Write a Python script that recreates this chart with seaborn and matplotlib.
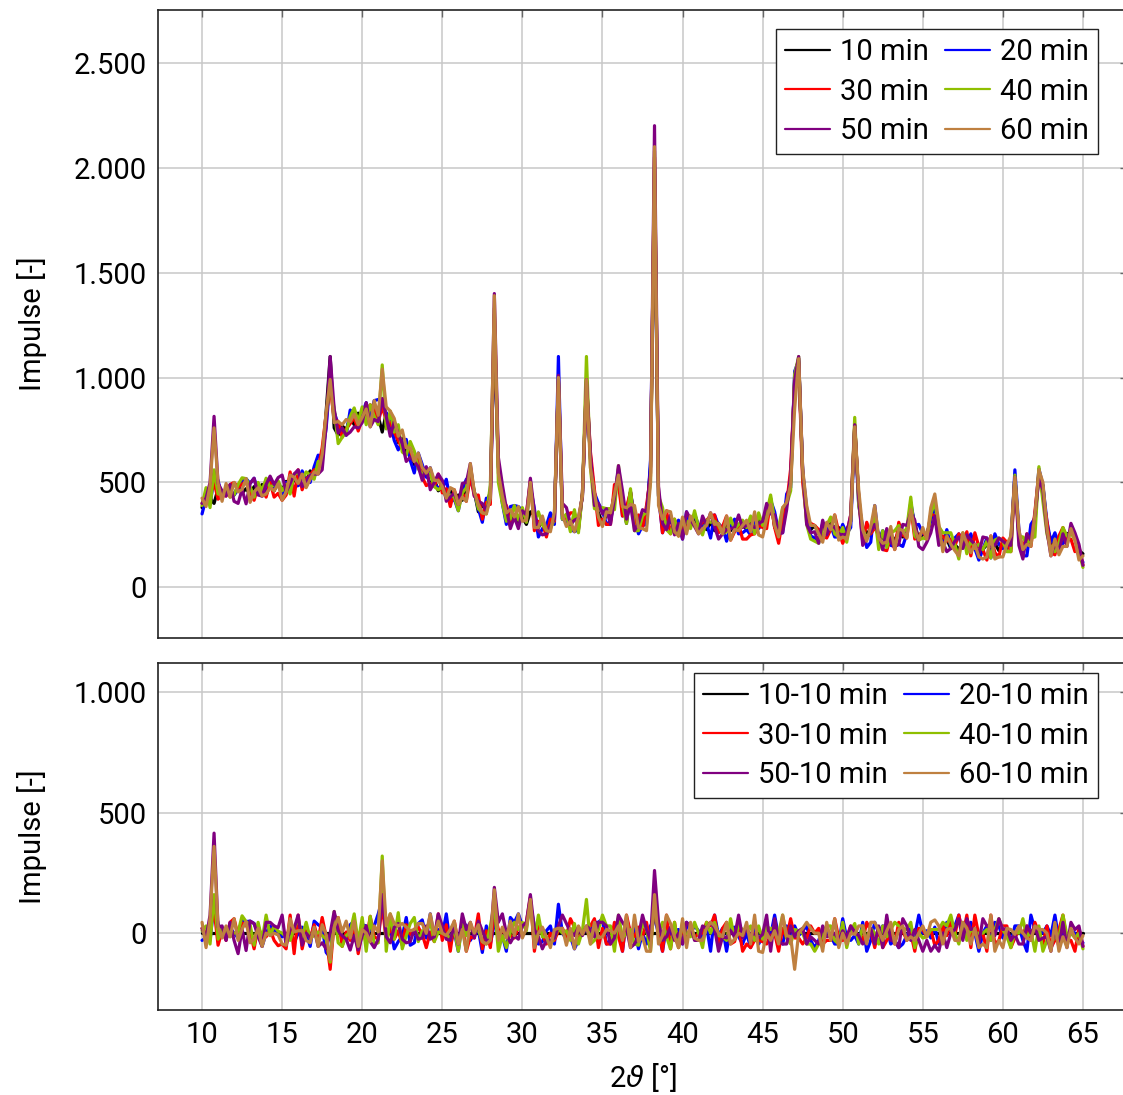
import numpy as np
import pandas as pd
import matplotlib
matplotlib.use("Agg")
import matplotlib.pyplot as plt
import seaborn as sns
from matplotlib.ticker import FuncFormatter
from matplotlib.lines import Line2D

# Diffraction angle grid (2 theta, degrees), 0.25 deg steps from 10 to 65
two_theta = np.round(10.0 + 0.25 * np.arange(221), 2)

# Measured intensity per milling time (counts), one row per degree
imp_10 = [380, 445, 425, 400, 470, 430, 465, 445, 440, 485, 450, 470, 445, 480, 455, 490,
          445, 485, 460, 500, 460, 505, 475, 520, 485, 530, 505, 555, 525, 595, 600, 840,
          1100, 760, 725, 770, 750, 810, 775, 830, 795, 850, 800, 860, 815, 740, 830, 760,
          765, 690, 710, 640, 655, 585, 600, 530, 545, 490, 515, 460, 480, 435, 460, 415,
          440, 415, 485, 545, 455, 360, 390, 395, 455, 1210, 575, 410, 375, 320, 345, 305,
          335, 300, 360, 345, 285, 315, 285, 325, 345, 980, 325, 340, 295, 330, 305, 440,
          960, 615, 405, 355, 305, 345, 345, 445, 505, 415, 305, 455, 315, 320, 295, 345,
          575, 1940, 435, 335, 290, 320, 280, 305, 275, 315, 295, 320, 285, 310, 275, 310,
          270, 305, 270, 295, 270, 300, 270, 305, 275, 310, 285, 325, 320, 325, 425, 285,
          285, 305, 415, 505, 1000, 1090, 545, 345, 275, 295, 255, 290, 265, 305, 285, 285,
          240, 275, 315, 770, 435, 245, 265, 245, 345, 225, 240, 205, 245, 225, 265, 240,
          265, 385, 305, 225, 255, 245, 335, 390, 275, 215, 230, 185, 205, 180, 215, 190,
          210, 185, 205, 180, 205, 170, 210, 175, 205, 185, 230, 530, 245, 180, 225, 225,
          315, 545, 485, 285, 225, 185, 230, 210, 255, 260, 245, 175, 160]

imp_20 = [350, 425, 395, 520, 510, 425, 465, 465, 440, 465, 507, 518, 495, 520, 455, 435,
          445, 515, 470, 493, 445, 500, 485, 480, 485, 555, 505, 500, 575, 630, 625, 760,
          1000, 835, 775, 740, 725, 845, 825, 760, 830, 880, 810, 890, 895, 880, 830, 785,
          700, 655, 695, 705, 605, 545, 640, 585, 525, 570, 490, 475, 470, 515, 415, 420,
          365, 465, 515, 515, 455, 375, 310, 425, 410, 1250, 575, 400, 300, 385, 390, 385,
          365, 330, 480, 375, 240, 280, 295, 355, 300, 1100, 325, 315, 280, 265, 275, 450,
          970, 615, 450, 400, 365, 300, 315, 425, 565, 340, 365, 455, 335, 255, 295, 300,
          605, 2000, 435, 260, 320, 315, 290, 320, 230, 360, 295, 350, 295, 290, 305, 235,
          345, 295, 290, 220, 290, 325, 255, 260, 275, 250, 330, 280, 305, 325, 415, 360,
          265, 260, 445, 475, 1030, 1080, 555, 375, 245, 235, 225, 305, 275, 295, 240, 240,
          300, 255, 285, 760, 390, 290, 190, 215, 390, 225, 270, 225, 200, 195, 205, 195,
          255, 405, 295, 300, 255, 255, 315, 415, 230, 200, 275, 195, 235, 255, 205, 200,
          255, 185, 130, 180, 235, 140, 255, 205, 185, 195, 185, 560, 275, 150, 150, 300,
          330, 565, 485, 315, 215, 260, 200, 210, 235, 270, 245, 145, 120]

imp_30 = [400, 445, 435, 500, 420, 440, 435, 490, 500, 475, 492, 503, 450, 415, 485, 470,
          430, 500, 430, 448, 415, 440, 550, 435, 560, 465, 515, 535, 560, 565, 665, 825,
          950, 805, 790, 715, 755, 780, 810, 745, 800, 815, 870, 845, 790, 860, 795, 785,
          740, 700, 660, 675, 650, 600, 625, 525, 485, 495, 480, 540, 450, 470, 385, 465,
          395, 450, 410, 530, 435, 440, 325, 405, 395, 1300, 590, 415, 390, 310, 325, 330,
          365, 345, 510, 270, 315, 310, 240, 325, 315, 990, 345, 325, 355, 355, 275, 450,
          980, 645, 465, 295, 325, 300, 300, 490, 490, 340, 380, 455, 300, 345, 280, 390,
          530, 2050, 445, 260, 365, 255, 325, 245, 295, 285, 325, 300, 285, 310, 320, 340,
          345, 260, 290, 340, 225, 265, 300, 230, 230, 250, 255, 295, 285, 280, 415, 285,
          210, 325, 395, 565, 980, 1070, 500, 325, 305, 295, 275, 245, 235, 275, 345, 265,
          210, 255, 345, 775, 425, 215, 310, 255, 285, 245, 180, 175, 245, 180, 310, 250,
          235, 385, 230, 245, 270, 230, 350, 340, 245, 245, 220, 230, 195, 255, 205, 265,
          150, 260, 195, 180, 130, 245, 165, 145, 235, 215, 170, 510, 260, 180, 255, 195,
          360, 545, 440, 315, 165, 155, 245, 285, 225, 230, 170, 195, 105]

imp_40 = [390, 475, 380, 560, 445, 450, 465, 430, 440, 490, 522, 518, 480, 430, 500, 460,
          520, 475, 490, 508, 460, 490, 445, 540, 545, 515, 550, 535, 515, 600, 590, 815,
          980, 850, 685, 715, 740, 815, 855, 790, 860, 775, 870, 815, 775, 1060, 755, 840,
          740, 775, 645, 630, 695, 650, 565, 540, 545, 540, 480, 465, 480, 425, 440, 430,
          365, 450, 475, 575, 455, 375, 355, 350, 485, 1330, 500, 400, 315, 325, 390, 320,
          380, 310, 495, 315, 360, 300, 270, 280, 325, 1000, 325, 350, 265, 370, 260, 450,
          1100, 570, 375, 370, 380, 375, 375, 370, 580, 395, 305, 470, 270, 270, 340, 360,
          500, 2080, 435, 380, 275, 255, 325, 245, 320, 315, 280, 365, 285, 250, 320, 310,
          315, 295, 255, 265, 330, 275, 300, 320, 285, 340, 255, 355, 295, 355, 440, 315,
          285, 380, 395, 460, 1015, 1100, 545, 300, 230, 220, 210, 280, 295, 335, 255, 240,
          285, 215, 325, 810, 390, 275, 235, 265, 345, 180, 270, 190, 260, 270, 295, 260,
          280, 430, 245, 225, 235, 230, 350, 405, 290, 260, 260, 260, 205, 135, 260, 160,
          225, 185, 205, 180, 220, 140, 225, 235, 220, 170, 170, 535, 245, 240, 205, 235,
          240, 575, 410, 255, 180, 170, 210, 285, 245, 260, 225, 175, 95]

imp_50 = [400, 425, 500, 815, 495, 460, 435, 490, 410, 400, 467, 398, 495, 520, 440, 435,
          490, 530, 490, 523, 535, 455, 495, 540, 560, 480, 505, 535, 540, 540, 560, 775,
          1100, 850, 735, 760, 725, 740, 765, 760, 785, 880, 765, 800, 790, 900, 815, 720,
          790, 730, 685, 600, 620, 600, 575, 510, 575, 465, 500, 540, 510, 410, 430, 450,
          395, 495, 500, 590, 435, 410, 400, 365, 425, 1400, 620, 490, 375, 280, 335, 280,
          365, 345, 520, 360, 270, 250, 255, 295, 325, 1010, 400, 380, 300, 320, 330, 430,
          990, 630, 390, 400, 350, 375, 300, 425, 580, 460, 325, 395, 270, 305, 370, 360,
          545, 2200, 480, 305, 275, 345, 250, 305, 230, 360, 325, 290, 255, 340, 295, 355,
          290, 230, 255, 275, 280, 285, 345, 285, 295, 300, 285, 305, 315, 400, 350, 345,
          255, 260, 370, 535, 985, 1100, 565, 300, 260, 265, 210, 320, 250, 295, 285, 255,
          250, 255, 345, 775, 425, 200, 235, 265, 300, 255, 180, 280, 215, 195, 205, 300,
          295, 355, 320, 195, 180, 215, 260, 340, 200, 215, 170, 185, 220, 240, 185, 250,
          225, 205, 160, 240, 235, 200, 200, 235, 220, 205, 200, 525, 200, 135, 255, 225,
          345, 515, 465, 270, 150, 215, 170, 255, 195, 305, 260, 205, 105]

imp_60 = [425, 385, 485, 760, 495, 410, 495, 430, 500, 455, 467, 518, 405, 455, 475, 435,
          445, 475, 460, 493, 415, 455, 535, 525, 495, 540, 475, 515, 550, 540, 635, 835,
          990, 785, 790, 775, 800, 790, 825, 775, 810, 850, 765, 890, 820, 1040, 860, 840,
          805, 720, 750, 665, 665, 600, 640, 570, 545, 570, 510, 510, 480, 425, 475, 465,
          395, 430, 410, 590, 455, 395, 355, 350, 425, 1390, 545, 435, 355, 370, 335, 385,
          315, 320, 500, 285, 285, 340, 270, 265, 360, 1000, 345, 290, 315, 265, 335, 435,
          990, 570, 450, 335, 290, 360, 355, 445, 535, 385, 380, 395, 390, 285, 280, 270,
          500, 2100, 390, 325, 365, 360, 265, 245, 335, 255, 340, 300, 255, 280, 295, 355,
          300, 305, 255, 340, 225, 275, 270, 295, 320, 265, 360, 250, 240, 325, 395, 295,
          240, 380, 405, 490, 850, 1090, 565, 390, 295, 295, 255, 215, 310, 275, 345, 225,
          240, 230, 315, 765, 465, 275, 220, 290, 390, 235, 210, 215, 290, 180, 280, 270,
          235, 370, 275, 225, 285, 230, 380, 445, 305, 170, 245, 205, 175, 150, 260, 210,
          165, 205, 145, 135, 145, 245, 135, 145, 145, 205, 245, 525, 275, 180, 205, 195,
          345, 560, 500, 285, 150, 230, 155, 195, 195, 280, 225, 130, 150]

series_names = ["10 min", "20 min", "30 min", "40 min", "50 min", "60 min"]
diff_names = ["10-10 min", "20-10 min", "30-10 min", "40-10 min", "50-10 min", "60-10 min"]
series_colors = ["#000000", "#0000ff", "#ff0000", "#8fbf00", "#800080", "#bf8040"]

y_ticks_top = [0, 500, 1000, 1500, 2000, 2500]
y_ticks_bottom = [0, 500, 1000]
x_ticks = [10, 15, 20, 25, 30, 35, 40, 45, 50, 55, 60, 65]

# Long-format tables for seaborn; lower panel is the difference to the 10 min scan
measurements = [imp_10, imp_20, imp_30, imp_40, imp_50, imp_60]
top_df = pd.concat(
    [pd.DataFrame({"two_theta": two_theta, "impulse": np.asarray(v, float), "series": n})
     for v, n in zip(measurements, series_names)], ignore_index=True)
reference = np.asarray(imp_10, float)
diff_df = pd.concat(
    [pd.DataFrame({"two_theta": two_theta, "impulse": np.asarray(v, float) - reference, "series": n})
     for v, n in zip(measurements, diff_names)], ignore_index=True)

sns.set_theme(style="white")
plt.rcParams["font.family"] = ["Roboto", "DejaVu Sans"]
plt.rcParams["font.weight"] = "normal"
plt.rcParams["mathtext.fontset"] = "dejavusans"
for key in ["text.color", "axes.labelcolor", "xtick.labelcolor", "ytick.labelcolor"]:
    plt.rcParams[key] = "black"

FS = 21
fig = plt.figure(figsize=(11.23, 10.95), dpi=100)
W, H = 1123.0, 1095.0
ax_top = fig.add_axes([158 / W, 1 - 637.7 / H, 969 / W, 627.4 / H])
ax_bot = fig.add_axes([158 / W, 1 - 1010.3 / H, 969 / W, 347.6 / H])

dot_fmt = FuncFormatter(lambda v, p: f"{int(round(v)):,}".replace(",", "."))


def style_axes(ax, yticks, ylim, show_xlabels):
    ax.set_xlim(7.25, 67.75)
    ax.set_ylim(*ylim)
    ax.set_xticks(x_ticks)
    ax.set_yticks(yticks)
    ax.yaxis.set_major_formatter(dot_fmt)
    ax.grid(True, color="#c8c8c8", linewidth=1.1)
    ax.set_axisbelow(True)
    for s in ax.spines.values():
        s.set_color("#222222")
        s.set_linewidth(1.2)
    ax.tick_params(axis="both", which="both", direction="in", length=5, width=1,
                   color="#666666", top=True, right=True, labelsize=FS, pad=8,
                   labelbottom=show_xlabels, labelcolor="black")
    ax.set_ylabel("Impulse [-]", fontsize=FS, labelpad=19)


def draw(ax, df, names):
    sns.lineplot(data=df, x="two_theta", y="impulse", hue="series", hue_order=names,
                 palette=series_colors, estimator=None, errorbar=None, sort=False,
                 linewidth=2.3, legend=False, ax=ax)
    # entries listed row by row: (10, 20), (30, 40), (50, 60)
    order = [0, 2, 4, 1, 3, 5]
    handles = [Line2D([0], [0], color=series_colors[i], linewidth=1.6) for i in order]
    labels = [names[i] for i in order]
    leg = ax.legend(handles, labels, ncol=2, loc="upper right", bbox_to_anchor=(0.97, 0.97),
                    fontsize=FS, frameon=True, fancybox=False, framealpha=1,
                    edgecolor="#222222", handlelength=1.55, handletextpad=0.35,
                    columnspacing=0.55, labelspacing=0.4, borderpad=0.3, borderaxespad=0)
    leg.get_frame().set_linewidth(1.0)


draw(ax_top, top_df, series_names)
style_axes(ax_top, y_ticks_top, (-240, 2750), False)
ax_top.set_xlabel("")

draw(ax_bot, diff_df, diff_names)
style_axes(ax_bot, y_ticks_bottom, (-320, 1122), True)
ax_bot.set_xlabel(r"2$\vartheta$ [°]", fontsize=FS, labelpad=8)

fig.savefig("out.png", dpi=100)
